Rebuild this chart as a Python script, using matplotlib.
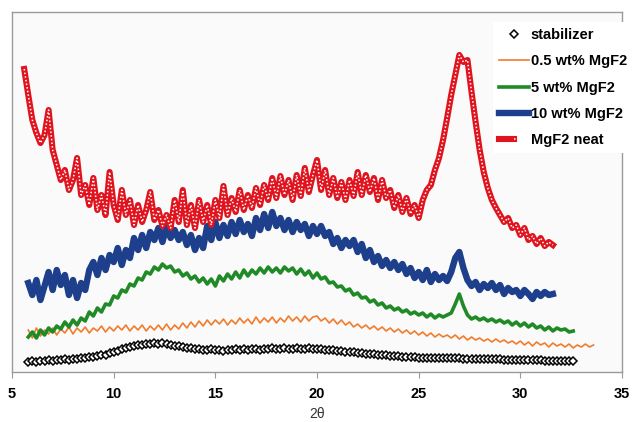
import numpy as np
import matplotlib.pyplot as plt
from matplotlib.legend_handler import HandlerTuple

plt.rcParams['font.family'] = ['Liberation Sans', 'DejaVu Sans']

'''
XRD intensities (arbitrary units), sampled every 0.2 deg 2theta
'''
step = 0.2

stab_start = 5.8
stabilizer = [10,
              11, 10, 11, 11, 12,
              11, 12, 12, 13, 12,
              13, 13, 14, 14, 15,
              15, 16, 17, 17, 19,
              20, 21, 23, 24, 25,
              26, 27, 27, 28, 28,
              29, 28, 29, 28, 27,
              26, 26, 25, 24, 24,
              23, 23, 22, 22, 23,
              22, 22, 21, 22, 22,
              23, 22, 23, 22, 23,
              23, 22, 23, 23, 24,
              23, 23, 24, 23, 23,
              24, 23, 23, 24, 23,
              23, 23, 22, 22, 22,
              21, 21, 20, 20, 20,
              19, 19, 18, 18, 18,
              17, 17, 17, 16, 16,
              16, 15, 15, 15, 15,
              14, 14, 14, 14, 14,
              14, 14, 14, 14, 14,
              14, 13, 13, 13, 13,
              13, 13, 13, 13, 13,
              13, 12, 12, 12, 12,
              12, 12, 12, 12, 12,
              12, 11, 11, 11, 11,
              11, 11, 11, 11]

p05_start = 5.8
mgf2_05 = [42,
           34, 44, 36, 42, 38,
           44, 37, 43, 39, 45,
           38, 44, 40, 45, 39,
           44, 41, 46, 40, 45,
           41, 46, 42, 47, 41,
           46, 42, 47, 41, 46,
           42, 47, 42, 48, 42,
           47, 43, 49, 44, 50,
           45, 51, 46, 52, 47,
           52, 48, 53, 47, 52,
           48, 54, 49, 53, 48,
           55, 49, 54, 50, 55,
           49, 54, 50, 56, 51,
           55, 50, 56, 51, 55,
           56, 51, 54, 49, 53,
           48, 52, 47, 50, 45,
           48, 44, 47, 43, 46,
           42, 45, 41, 44, 40,
           43, 39, 42, 38, 41,
           37, 40, 36, 39, 35,
           38, 35, 37, 34, 37,
           33, 36, 32, 35, 32,
           34, 31, 33, 30, 33,
           30, 32, 29, 31, 28,
           31, 27, 30, 26, 30,
           27, 29, 25, 29, 26,
           28, 25, 28, 24, 27,
           25, 28, 25, 27]

p5_start = 5.8
mgf2_5 = [35,
          40, 34, 42, 37, 44,
          40, 46, 43, 50, 45,
          52, 47, 54, 51, 60,
          56, 64, 60, 68, 67,
          76, 74, 82, 80, 88,
          86, 94, 92, 100, 98,
          105, 102, 108, 104, 106,
          100, 102, 96, 99, 93,
          96, 90, 94, 88, 93,
          86, 96, 91, 98, 93,
          100, 94, 102, 96, 102,
          98, 104, 99, 105, 100,
          104, 99, 105, 101, 104,
          98, 103, 97, 101, 94,
          99, 93, 95, 89, 90,
          85, 86, 81, 83, 77,
          79, 74, 75, 70, 72,
          67, 69, 64, 66, 62,
          64, 60, 62, 58, 60,
          57, 59, 55, 58, 54,
          57, 55, 57, 59, 68,
          78, 66, 57, 53, 55,
          52, 54, 51, 53, 50,
          52, 49, 51, 47, 50,
          46, 49, 45, 48, 44,
          46, 42, 45, 41, 44,
          42, 43, 40, 41]

p10_start = 5.8
mgf2_10 = [89,
           77, 92, 72, 86, 100,
           82, 102, 87, 97, 77,
           92, 74, 89, 82, 102,
           110, 97, 114, 102, 117,
           110, 124, 107, 122, 114,
           134, 122, 137, 124, 140,
           132, 144, 130, 146, 134,
           142, 132, 140, 127, 137,
           122, 134, 124, 146, 132,
           150, 134, 147, 136, 150,
           138, 152, 140, 148, 136,
           154, 142, 158, 144, 160,
           146, 154, 142, 152, 140,
           150, 142, 148, 136, 146,
           138, 146, 136, 140, 128,
           134, 124, 132, 126, 132,
           120, 128, 114, 122, 110,
           116, 106, 112, 104, 110,
           102, 108, 98, 104, 94,
           100, 92, 102, 90, 98,
           92, 96, 91, 100, 114,
           120, 104, 92, 86, 90,
           82, 88, 84, 89, 82,
           87, 78, 84, 80, 82,
           76, 82, 78, 73, 80,
           76, 80, 77, 78]

neat_start = 5.6
mgf2_neat = [303, 277,
             252, 239, 229, 237, 262,
             222, 207, 192, 202, 182,
             192, 214, 177, 187, 167,
             194, 162, 177, 157, 200,
             167, 152, 182, 157, 172,
             147, 167, 150, 162, 180,
             152, 162, 146, 157, 144,
             172, 150, 182, 147, 167,
             144, 172, 150, 167, 147,
             172, 154, 186, 157, 174,
             160, 182, 162, 177, 164,
             184, 167, 187, 172, 194,
             174, 196, 177, 192, 172,
             197, 176, 204, 180, 197,
             212, 182, 202, 177, 194,
             174, 190, 172, 192, 176,
             200, 177, 197, 180, 194,
             172, 192, 174, 182, 164,
             177, 160, 174, 158, 167,
             154, 172, 182, 187, 202,
             214, 232, 254, 277, 297,
             317, 310, 312, 280, 250,
             222, 200, 184, 172, 164,
             157, 150, 154, 144, 147,
             137, 144, 132, 136, 128,
             134, 126, 130, 127]


def theta(start, vals):
    return start + step * np.arange(len(vals))


fig = plt.figure(figsize=(6.34, 4.22), dpi=100)
ax = fig.add_axes([12 / 634, 50 / 422, 610 / 634, 360 / 422])
ax.set_facecolor('#fafafa')

# stabilizer: dense open diamonds
ax.plot(theta(stab_start, stabilizer), stabilizer, color='black', lw=3.0, zorder=2)
h_stab, = ax.plot(theta(stab_start, stabilizer), stabilizer, linestyle='none', marker='D',
                  markersize=4.2, mfc='white', mec='black', mew=1.1, zorder=3)
h05, = ax.plot(theta(p05_start, mgf2_05), mgf2_05, color='#f07c2c', lw=1.2, zorder=3)
h5, = ax.plot(theta(p5_start, mgf2_5), mgf2_5, color='#208a26', lw=2.6, zorder=3)
h10, = ax.plot(theta(p10_start, mgf2_10), mgf2_10, color='#1d3f8c', lw=4.6, zorder=3)
# MgF2 neat: thick red with white dots
hn1, = ax.plot(theta(neat_start, mgf2_neat), mgf2_neat, color='#e0141e', lw=4.4, zorder=4)
hn2, = ax.plot(theta(neat_start, mgf2_neat), mgf2_neat, color='white', lw=1.1,
               dashes=(1, 1.4), zorder=5)

ax.set_xlim(5, 35)
ax.set_ylim(0, 360)
ax.set_yticks([])
ax.set_xticks(np.arange(5, 36, 5))
ax.tick_params(axis='x', direction='out', length=4, color='#9a9a9a', pad=7,
               labelsize=10.5)
for lab in ax.get_xticklabels():
    lab.set_fontweight('bold')
for sp in ax.spines.values():
    sp.set_color('#9a9a9a')
    sp.set_linewidth(1.0)
ax.set_xlabel('2θ', fontsize=10, color='#333333', labelpad=4)

leg = ax.legend([h_stab, h05, h5, h10, (hn1, hn2)],
                ['stabilizer', '0.5 wt% MgF2', '5 wt% MgF2', '10 wt% MgF2', 'MgF2 neat'],
                handler_map={tuple: HandlerTuple(ndivide=None, pad=0)},
                loc='upper left', bbox_to_anchor=(493 / 634, 1 - 22 / 422),
                bbox_transform=fig.transFigure, borderaxespad=0, borderpad=0.4,
                frameon=True, facecolor='white', edgecolor='none', framealpha=1,
                fancybox=False, numpoints=1, handlelength=2.1, handletextpad=0.1,
                labelspacing=0.85, prop={'weight': 'bold', 'size': 10.5})
leg.set_zorder(10)

plt.savefig('out.png', dpi=100)
